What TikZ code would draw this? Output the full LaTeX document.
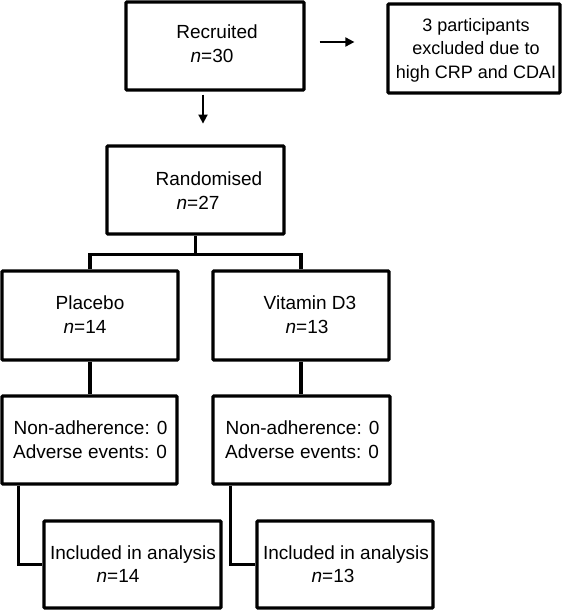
\documentclass[tikz,border=0pt]{standalone}
\usepackage{fontspec}
\setmainfont{Liberation Sans}
\usetikzlibrary{arrows.meta,calc}
\begin{document}
\begin{tikzpicture}[x=1pt,y=-1pt,
  box/.style={draw=black, line width=3.2pt, rounded corners=1pt, inner sep=0pt, fill=white},
  txt/.style={anchor=base, inner sep=0pt, font=\fontsize{19}{24}\selectfont},
  smalltxt/.style={anchor=base, inner sep=0pt, font=\fontsize{18}{23}\selectfont},
  link/.style={draw=black, line width=3.2pt},
  arr/.style={draw=black, line width=1.8pt, -{Triangle[length=9pt,width=9pt]}}]
\useasboundingbox (0,0) rectangle (566,610);
% boxes
\node[box, minimum width=178pt, minimum height=88pt] (rec) at (215,46) {};
\node[box, minimum width=172pt, minimum height=89pt] (exc) at (474,48.5) {};
\node[box, minimum width=177pt, minimum height=88pt] (rand) at (195.5,190) {};
\node[box, minimum width=176pt, minimum height=89pt] (plac) at (90,315.5) {};
\node[box, minimum width=176pt, minimum height=89pt] (vit) at (301,315.5) {};
\node[box, minimum width=175pt, minimum height=88pt] (na1) at (89.5,440) {};
\node[box, minimum width=177pt, minimum height=88pt] (na2) at (301.5,440) {};
\node[box, minimum width=177pt, minimum height=87pt] (inc1) at (132.5,564.5) {};
\node[box, minimum width=176pt, minimum height=87pt] (inc2) at (345,564.5) {};
% texts
\node[txt] (t1) at (217,39) {Recruited};
\node[txt] (t2) at (212,63) {\textit{n}=30};
\node[smalltxt] (t3) at (476,32) {3 participants};
\node[smalltxt] (t4) at (476,55) {excluded due to};
\node[smalltxt] (t5) at (476,78) {high CRP and CDAI};
\node[txt] (t6) at (209,185) {Randomised};
\node[txt] (t7) at (198,209) {\textit{n}=27};
\node[txt] (t8) at (90,309) {Placebo};
\node[txt] (t9) at (85,333) {\textit{n}=14};
\node[txt] (t10) at (310,309) {Vitamin D3};
\node[txt] (t11) at (307,333) {\textit{n}=13};
\node[txt] (t12) at (90.5,434) {Non-adherence: 0};
\node[txt] (t13) at (90,458) {Adverse events: 0};
\node[txt] (t14) at (302.5,434) {Non-adherence: 0};
\node[txt] (t15) at (302,458) {Adverse events: 0};
\node[txt] (t16) at (133,559) {Included in analysis};
\node[txt] (t17) at (118,582) {\textit{n}=14};
\node[txt] (t18) at (346,559) {Included in analysis};
\node[txt] (t19) at (333,582) {\textit{n}=13};
% arrows
\draw[arr] ([shift={(14,-4)}]rec.east) -- ([shift={(-32,-4)}]rec.east -| exc.west);
\draw[arr] ([shift={(-12,3)}]rec.south) -- ([shift={(-12,32)}]rec.south);
% connectors
\coordinate (split) at ($(rand.south)+(0,19)$);
\draw[link] (rand.south) -- (split);
\draw[link] (plac.north) |- (split) -| (vit.north);
\draw[link] (plac.south) -- (plac.south |- na1.north);
\draw[link] (vit.south) -- (vit.south |- na2.north);
\draw[link] ([xshift=18pt]na1.south west) |- (inc1.west);
\draw[link] ([xshift=19pt]na2.south west) |- (inc2.west);
\end{tikzpicture}
\end{document}
